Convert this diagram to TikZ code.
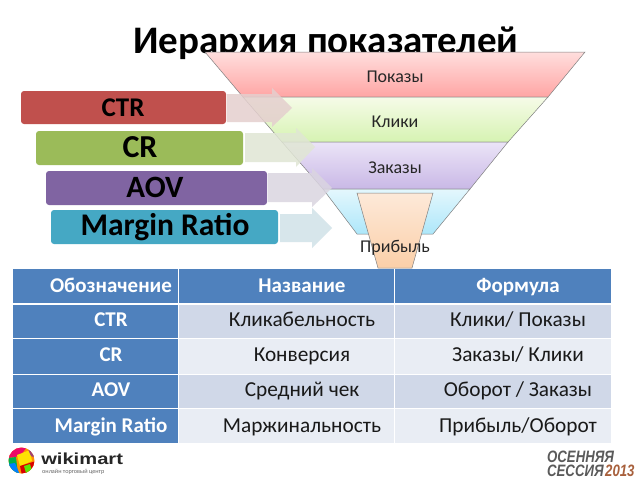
\documentclass[tikz,border=0pt]{standalone}
\usepackage{fontspec}
\setmainfont{Carlito}
\newfontfamily\logofont{Liberation Sans}
\definecolor{tblblue}{HTML}{4F81BD}
\definecolor{bandA}{HTML}{D0D8E8}
\definecolor{bandB}{HTML}{E9EDF4}
\definecolor{boxred}{HTML}{C0504D}
\definecolor{boxgreen}{HTML}{9BBB59}
\definecolor{boxpurple}{HTML}{8064A2}
\definecolor{boxblue}{HTML}{45A8C4}
\definecolor{arA}{HTML}{E4CFCE}
\definecolor{arB}{HTML}{E0E6D4}
\definecolor{arC}{HTML}{DAD5E0}
\definecolor{arD}{HTML}{D0E2E8}
\definecolor{fAt}{HTML}{FFDEDD}\definecolor{fAb}{HTML}{FFA5A4}
\definecolor{fBt}{HTML}{F6FBE8}\definecolor{fBb}{HTML}{D6F3B2}
\definecolor{fCt}{HTML}{EBE4F7}\definecolor{fCb}{HTML}{C9B8E6}
\definecolor{fDt}{HTML}{E4F7FD}\definecolor{fDb}{HTML}{ADE7FA}
\definecolor{fEt}{HTML}{FDE9D9}\definecolor{fEb}{HTML}{FBCFA8}
\definecolor{sessgrey}{HTML}{5A5A5A}
\definecolor{sessred}{HTML}{A8603C}
\tikzset{
  x=1pt,y=-1pt,
  levelbox/.style={rounded corners=3pt,draw=none,fill=#1},
  leveltext/.style={font=\fontsize{#1}{30}\selectfont\bfseries,text=black,inner sep=0pt,anchor=base},
  blockarrow/.style={draw=none,fill=#1,fill opacity=.85},
  funnel/.style={draw=black!50!white,line width=.5pt},
  funneltext/.style={font=\fontsize{18}{20}\selectfont,text=black!85,inner sep=0pt,anchor=base},
  headtext/.style={font=\fontsize{21}{23}\selectfont\bfseries,text=white,inner sep=0pt,anchor=base},
  celltext/.style={font=\fontsize{21.3}{23}\selectfont,text=black!90,inner sep=0pt,anchor=base},
  sesstext/.style={font=\logofont\bfseries\itshape\fontsize{16.5}{17}\selectfont,text=#1,inner sep=0pt,anchor=base west,xscale=.8,transform shape},
}
\begin{document}
\begin{tikzpicture}
\useasboundingbox (0,0) rectangle (638,479);
\fill[white] (0,0) rectangle (638,479);
% title
\node[font=\fontsize{39}{41}\selectfont\bfseries,inner sep=0pt,anchor=base] (title) at (326,53) {Иерархия показателей};
% funnel
\shade[top color=fAt,bottom color=fAb] (205,52) -- (585,52) -- (548,97) -- (243,97) -- cycle;
\draw[funnel] (205,52) -- (585,52) -- (548,97) -- (243,97) -- cycle;
\shade[top color=fBt,bottom color=fBb] (243,97) -- (548,97) -- (508,142) -- (282,142) -- cycle;
\draw[funnel] (243,97) -- (548,97) -- (508,142) -- (282,142) -- cycle;
\shade[top color=fCt,bottom color=fCb] (282,142) -- (508,142) -- (470,189) -- (323,189) -- cycle;
\draw[funnel] (282,142) -- (508,142) -- (470,189) -- (323,189) -- cycle;
\shade[top color=fDt,bottom color=fDb] (323,189) -- (470,189) -- (433,234) -- (357,234) -- cycle;
\draw[funnel] (323,189) -- (470,189) -- (433,234) -- (357,234) -- cycle;
\shade[top color=fEt,bottom color=fEb] (357,193) -- (433,193) -- (412,268) -- (378,268) -- cycle;
\draw[funnel] (357,193) -- (433,193) -- (412,268) -- (378,268) -- cycle;
\node[funneltext] (f1) at (395,82) {Показы};
\node[funneltext] (f2) at (395,127) {Клики};
\node[funneltext] (f3) at (395,173) {Заказы};
\node[funneltext] (f4) at (395,252) {Прибыль};
% block arrows
\fill[blockarrow=arA] (227,94) -- (272,94) -- (272,88) -- (292,108) -- (272,127) -- (272,122) -- (227,122) -- cycle;
\fill[blockarrow=arB] (245,133) -- (296,133) -- (296,128) -- (315,147) -- (296,167) -- (296,162) -- (245,162) -- cycle;
\fill[blockarrow=arC] (268,173) -- (312,173) -- (312,168) -- (332,188) -- (312,207) -- (312,202) -- (268,202) -- cycle;
\fill[blockarrow=arD] (280,214) -- (312,214) -- (312,208) -- (332,228) -- (312,248) -- (312,242) -- (280,242) -- cycle;
% level boxes
\fill[levelbox=boxred] (21,91) rectangle (226,124);
\fill[levelbox=boxgreen] (36,131) rectangle (243,165);
\fill[levelbox=boxpurple] (46,171) rectangle (267,205);
\fill[levelbox=boxblue] (51,210) rectangle (278,244);
\node[leveltext=27] (l1) at (123,116) {CTR};
\node[leveltext=32] (l2) at (140,157) {CR};
\node[leveltext=31] (l3) at (155,197) {AOV};
\node[leveltext=31.5] (l4) at (165,235) {Margin Ratio};
% table
\fill[tblblue] (13,269) rectangle (178,303);
\fill[tblblue] (179,269) rectangle (394,303);
\fill[tblblue] (395,269) rectangle (611,303);
\fill[tblblue] (13,305) rectangle (178,338);
\fill[tblblue] (13,339) rectangle (178,374);
\fill[tblblue] (13,375) rectangle (178,408);
\fill[tblblue] (13,409) rectangle (178,443);
\fill[bandA] (179,305) rectangle (394,338);
\fill[bandA] (395,305) rectangle (611,338);
\fill[bandB] (179,339) rectangle (394,374);
\fill[bandB] (395,339) rectangle (611,374);
\fill[bandA] (179,375) rectangle (394,408);
\fill[bandA] (395,375) rectangle (611,408);
\fill[bandB] (179,409) rectangle (394,443);
\fill[bandB] (395,409) rectangle (611,443);
\node[headtext] (h1) at (111,292) {Обозначение};
\node[headtext] (h2) at (302,292) {Название};
\node[headtext] (h3) at (518,292) {Формула};
\node[headtext] (a1) at (111,326) {CTR};
\node[headtext] (a2) at (111,361) {CR};
\node[headtext] (a3) at (111,396) {AOV};
\node[headtext] (a4) at (111,432) {Margin Ratio};
\node[celltext] (b1) at (302,326) {Кликабельность};
\node[celltext] (b2) at (302,361) {Конверсия};
\node[celltext] (b3) at (302,396) {Средний чек};
\node[celltext] (b4) at (302,432) {Маржинальность};
\node[celltext] (c1) at (518,326) {Клики/ Показы};
\node[celltext] (c2) at (518,361) {Заказы/ Клики};
\node[celltext] (c3) at (518,396) {Оборот / Заказы};
\node[celltext] (c4) at (518,432) {Прибыль/Оборот};
% wikimart logo
\begin{scope}
\clip (21.5,460.5) circle (13);
\fill[orange!85!yellow] (8,447) rectangle (36,475);
\fill[magenta!65!red] (8,447) -- (27,447) -- (20,456) -- (8,458) -- cycle;
\fill[green!55!black!70!cyan] (8,458) -- (16,457) -- (18,474) -- (8,474) -- cycle;
\fill[blue!50!cyan] (8,464) -- (15,463) -- (20,475) -- (8,475) -- cycle;
\fill[yellow!85!orange] (17,455) -- (30,450) -- (32,461) -- (20,466) -- cycle;
\fill[red!85!black] (20,466) -- (36,461) -- (36,475) -- (22,475) -- cycle;
\fill[magenta!60!black] (27,447) -- (36,447) -- (36,458) -- (31,456) -- cycle;
\fill[green!60!yellow!90!black] (24,466) -- (30,464) -- (32,471) -- (26,473) -- cycle;
\end{scope}
\node[font=\logofont\bfseries\fontsize{16}{17}\selectfont,text=black!85,inner sep=0pt,anchor=base west,xscale=1.26,transform shape] (wiki) at (41,464) {wikimart};
\node[font=\fontsize{6.2}{7}\selectfont,text=black!60,inner sep=0pt,anchor=base west] (wikisub) at (42,473) {онлайн торговый центр};
% session logo
\node[sesstext=sessgrey] (s1) at (547,462) {ОСЕННЯЯ};
\node[sesstext=sessgrey] (s2) at (547,476) {СЕССИЯ};
\node[sesstext=sessred] (s3) at (605,476) {2013};
\end{tikzpicture}
\end{document}
